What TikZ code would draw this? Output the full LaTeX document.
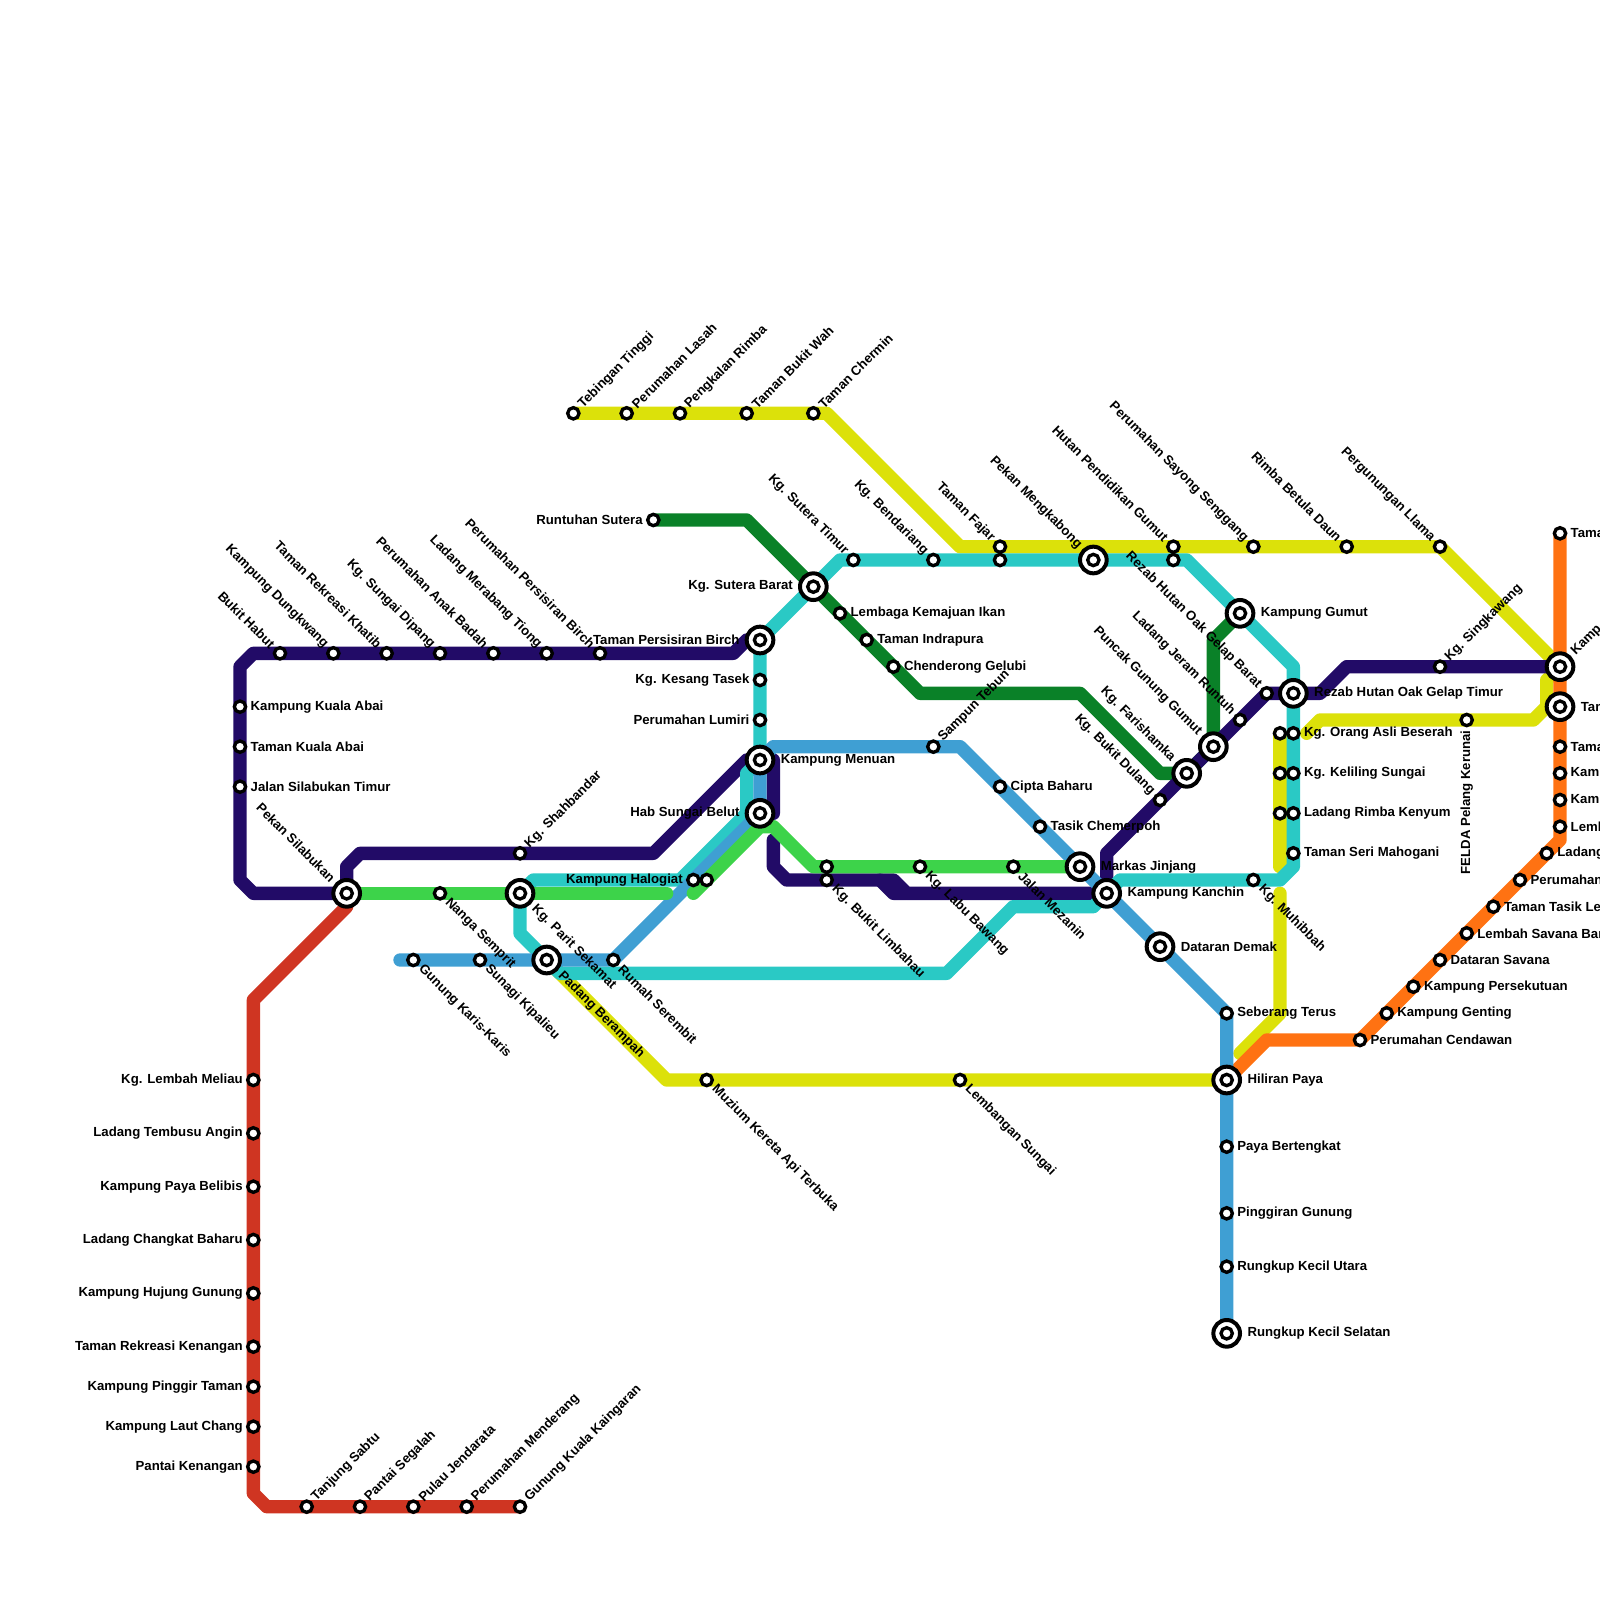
\documentclass[tikz,border=0pt]{standalone}
\usepackage{fontspec}
\setmainfont{Liberation Sans}[BoldFont={Liberation Sans Bold}]
\usetikzlibrary{backgrounds}
\definecolor{cRed}{HTML}{CF3522}
\definecolor{cYel}{HTML}{DCE10A}
\definecolor{cOra}{HTML}{FF7212}
\definecolor{cDgr}{HTML}{0A8128}
\definecolor{cPur}{HTML}{220B67}
\definecolor{cCya}{HTML}{2AC9C5}
\definecolor{cBlu}{HTML}{3F9FD3}
\definecolor{cLgr}{HTML}{3DD34A}
\tikzset{
  stn/.style={circle,draw=black,fill=white,line width=.05cm,minimum size=.17cm,inner sep=0pt,outer sep=0pt},
  big/.style={circle,draw=black,fill=white,line width=.06cm,minimum size=.4cm,inner sep=0pt,outer sep=0pt,
    label={[stn]center:{}}},
  lab/.style={font=\bfseries\fontsize{5.63pt}{6.5pt}\selectfont,text=black,inner sep=0pt},
  lR/.style={anchor=west,xshift=.153cm},
  lL/.style={anchor=east,xshift=-.153cm},
  lLB/.style={anchor=east,xshift=-.3cm},
  lRB/.style={anchor=west,xshift=.306cm},
  lUR/.style={xshift=.105cm,yshift=.105cm,rotate=45,anchor=west},
  lUL/.style={xshift=-.105cm,yshift=.105cm,rotate=-45,anchor=east},
  lDR/.style={xshift=.105cm,yshift=-.105cm,rotate=-45,anchor=west},
  lURB/.style={xshift=.2cm,yshift=.2cm,rotate=45,anchor=west},
  lULB/.style={xshift=-.2cm,yshift=.2cm,rotate=-45,anchor=east},
  lDRB/.style={xshift=.2cm,yshift=-.2cm,rotate=-45,anchor=west},
  lV/.style={yshift=-.153cm,rotate=90,anchor=east},
  route/.style={draw=#1,line width=.2cm,line cap=round,line join=round},
}
\newcommand\st[6]{\node[#1] (#2) at (#3,#4) {}; \node[lab,#5] (#2t) at (#3,#4) {#6};}
\begin{document}
\begin{tikzpicture}[x=.2cm,y=-.2cm]
\useasboundingbox (0,0) rectangle (120,120);
% top-left purple row
\st{stn}{a1}{21}{49}{lUL}{Bukit Habut}
\st{stn}{a2}{25}{49}{lUL}{Kampung Dungkwang}
\st{stn}{a3}{29}{49}{lUL}{Taman Rekreasi Khatib}
\st{stn}{a4}{33}{49}{lUL}{Kg. Sungai Dipang}
\st{stn}{a5}{37}{49}{lUL}{Perumahan Anak Badah}
\st{stn}{a6}{41}{49}{lUL}{Ladang Merabang Tiong}
\st{stn}{a7}{45}{49}{lUL}{Perumahan Persisiran Birch}
\st{stn}{a8}{18}{53}{lR}{Kampung Kuala Abai}
\st{stn}{a9}{18}{56}{lR}{Taman Kuala Abai}
\st{stn}{a10}{18}{59}{lR}{Jalan Silabukan Timur}
\st{big}{pekan}{26}{67}{lULB}{Pekan Silabukan}
\st{stn}{shah}{39}{64}{lUR}{Kg. Shahbandar}
\st{stn}{nanga}{33}{67}{lDR}{Nanga Semprit}
\st{big}{parit}{39}{67}{lDRB}{Kg. Parit Sekamat}
\st{big}{padang}{41}{72}{lDRB}{Padang Berampah}
\st{stn}{karis}{31}{72}{lDR}{Gunung Karis-Karis}
\st{stn}{kipal}{36}{72}{lDR}{Sunagi Kipalieu}
\st{stn}{serem}{46}{72}{lDR}{Rumah Serembit}
\st{stn}{halo}{52}{66}{lL}{Kampung Halogiat}
\node[stn] (halob) at (53,66) {};
% central column
\st{big}{birch}{57}{48}{lLB}{Taman Persisiran Birch}
\st{stn}{kesang}{57}{51}{lL}{Kg. Kesang Tasek}
\st{stn}{lumiri}{57}{54}{lL}{Perumahan Lumiri}
\st{big}{menuan}{57}{57}{lRB}{Kampung Menuan}
\st{big}{belut}{57}{61}{lLB}{Hab Sungai Belut}
% yellow top
\st{stn}{teb}{43}{31}{lUR}{Tebingan Tinggi}
\st{stn}{lasah}{47}{31}{lUR}{Perumahan Lasah}
\st{stn}{rimba}{51}{31}{lUR}{Pengkalan Rimba}
\st{stn}{wah}{56}{31}{lUR}{Taman Bukit Wah}
\st{stn}{chermin}{61}{31}{lUR}{Taman Chermin}
% dark green
\st{stn}{runt}{49}{39}{lL}{Runtuhan Sutera}
\st{big}{barat}{61}{44}{lLB}{Kg. Sutera Barat}
\st{stn}{ikan}{63}{46}{lR}{Lembaga Kemajuan Ikan}
\st{stn}{indra}{65}{48}{lR}{Taman Indrapura}
\st{stn}{gelubi}{67}{50}{lR}{Chenderong Gelubi}
% y=42 and y=41 row
\st{stn}{timur}{64}{42}{lUL}{Kg. Sutera Timur}
\st{stn}{bend}{70}{42}{lUL}{Kg. Bendariang}
\st{stn}{fajar}{75}{41}{lUL}{Taman Fajar}
\node[stn] (fajarb) at (75,42) {};
\st{big}{mengk}{82}{42}{lULB}{Pekan Mengkabong}
\st{stn}{hutan}{88}{41}{lUL}{Hutan Pendidikan Gumut}
\node[stn] (hutanb) at (88,42) {};
\st{stn}{sayong}{94}{41}{lUL}{Perumahan Sayong Senggang}
\st{stn}{betula}{101}{41}{lUL}{Rimba Betula Daun}
\st{stn}{llama}{108}{41}{lUL}{Pergunungan Llama}
\st{big}{gumut}{93}{46}{lRB}{Kampung Gumut}
% blue upper
\st{stn}{tebun}{70}{56}{lUR}{Sampun Tebun}
\st{stn}{cipta}{75}{59}{lR}{Cipta Baharu}
\st{stn}{tasik}{78}{62}{lR}{Tasik Chemerpoh}
\st{big}{markas}{81}{65}{lRB}{Markas Jinjang}
\st{big}{kanchin}{83}{67}{lRB}{Kampung Kanchin}
\st{big}{demak}{87}{71}{lRB}{Dataran Demak}
\st{stn}{seb}{92}{76}{lR}{Seberang Terus}
\st{big}{hiliran}{92}{81}{lRB}{Hiliran Paya}
\st{stn}{paya}{92}{86}{lR}{Paya Bertengkat}
\st{stn}{pingg}{92}{91}{lR}{Pinggiran Gunung}
\st{stn}{rkut}{92}{95}{lR}{Rungkup Kecil Utara}
\st{big}{rksel}{92}{100}{lRB}{Rungkup Kecil Selatan}
% light green / purple row
\node[stn] (gr62) at (62,65) {};
\st{stn}{limb}{62}{66}{lDR}{Kg. Bukit Limbahau}
\st{stn}{labu}{69}{65}{lDR}{Kg. Labu Bawang}
\st{stn}{mezan}{76}{65}{lDR}{Jalan Mezanin}
\st{stn}{muzium}{53}{81}{lDR}{Muzium Kereta Api Terbuka}
\st{stn}{lemb}{72}{81}{lDR}{Lembangan Sungai}
% purple diagonal
\st{stn}{dulang}{87}{60}{lUL}{Kg. Bukit Dulang}
\st{big}{faris}{89}{58}{lULB}{Kg. Farishamka}
\st{big}{puncak}{91}{56}{lULB}{Puncak Gunung Gumut}
\st{stn}{jeram}{93}{54}{lUL}{Ladang Jeram Runtuh}
\st{stn}{rzb}{95}{52}{lUL}{Rezab Hutan Oak Gelap Barat}
\st{big}{rzt}{97}{52}{lRB}{Rezab Hutan Oak Gelap Timur}
\st{stn}{sing}{108}{50}{lUR}{Kg. Singkawang}
\st{stn}{felda}{110}{54}{lV}{FELDA Pelang Kerunai}
% twin column
\node[stn] (y55) at (96,55) {};
\node[stn] (y58) at (96,58) {};
\node[stn] (y61) at (96,61) {};
\st{stn}{asli}{97}{55}{lR}{Kg. Orang Asli Beserah}
\st{stn}{kelil}{97}{58}{lR}{Kg. Keliling Sungai}
\st{stn}{kenyum}{97}{61}{lR}{Ladang Rimba Kenyum}
\st{stn}{mahog}{97}{64}{lR}{Taman Seri Mahogani}
\st{stn}{muhib}{94}{66}{lDR}{Kg. Muhibbah}
% red
\st{stn}{r1}{19}{81}{lL}{Kg. Lembah Meliau}
\st{stn}{r2}{19}{85}{lL}{Ladang Tembusu Angin}
\st{stn}{r3}{19}{89}{lL}{Kampung Paya Belibis}
\st{stn}{r4}{19}{93}{lL}{Ladang Changkat Baharu}
\st{stn}{r5}{19}{97}{lL}{Kampung Hujung Gunung}
\st{stn}{r6}{19}{101}{lL}{Taman Rekreasi Kenangan}
\st{stn}{r7}{19}{104}{lL}{Kampung Pinggir Taman}
\st{stn}{r8}{19}{107}{lL}{Kampung Laut Chang}
\st{stn}{r9}{19}{110}{lL}{Pantai Kenangan}
\st{stn}{b1}{23}{113}{lUR}{Tanjung Sabtu}
\st{stn}{b2}{27}{113}{lUR}{Pantai Segalah}
\st{stn}{b3}{31}{113}{lUR}{Pulau Jendarata}
\st{stn}{b4}{35}{113}{lUR}{Perumahan Menderang}
\st{stn}{b5}{39}{113}{lUR}{Gunung Kuala Kaingaran}
% orange
\st{stn}{o0}{117}{40}{lR}{Tama}
\st{big}{okamp}{117}{50}{lURB}{Kamp}
\st{big}{otam}{117}{53}{lRB}{Tam}
\st{stn}{o1}{117}{56}{lR}{Tama}
\st{stn}{o2}{117}{58}{lR}{Kamp}
\st{stn}{o3}{117}{60}{lR}{Kamp}
\st{stn}{o4}{117}{62}{lR}{Lemb}
\st{stn}{o5}{116}{64}{lR}{Ladang}
\st{stn}{o6}{114}{66}{lR}{Perumahan}
\st{stn}{o7}{112}{68}{lR}{Taman Tasik Le}
\st{stn}{o8}{110}{70}{lR}{Lembah Savana Bar}
\st{stn}{o9}{108}{72}{lR}{Dataran Savana}
\st{stn}{o10}{106}{74}{lR}{Kampung Persekutuan}
\st{stn}{o11}{104}{76}{lR}{Kampung Genting}
\st{stn}{o12}{102}{78}{lR}{Perumahan Cendawan}
% free line ends
\coordinate (redTop) at (26,68);
\coordinate (yelA) at (98,55);
\coordinate (yelB) at (96,65);
\coordinate (yelC) at (96,67);
\coordinate (yelD) at (93,79);
\coordinate (purA) at (58,63);
\coordinate (purB) at (66,66);
\coordinate (purC) at (68,67);
\coordinate (bluA) at (30,72);
\coordinate (lgrA) at (50,67);
\coordinate (lgrB) at (52,67);
\begin{scope}[on background layer]
\draw[route=cRed] (redTop) -- (19,75) -- (19,112) -- (20,113) -- (b5.center);
\draw[route=cYel] (teb.center) -- (62,31) -- (72,41) -- (llama.center) -- (okamp.center) -- (116,51) -- (116,53) -- (115,54) -- (99,54) -- (yelA);
\draw[route=cYel] (y55.center) -- (yelB);
\draw[route=cYel] (yelC) -- (96,76) -- (yelD);
\draw[route=cYel] (hiliran.center) -- (50,81) -- (padang.center);
\draw[route=cOra] (o0.center) -- (117,63) -- (o12.center) -- (95,78) -- (hiliran.center);
\draw[route=cDgr] (runt.center) -- (56,39) -- (69,52) -- (81,52) -- (87,58) -- (faris.center) -- (puncak.center) -- (91,48) -- (gumut.center);
\draw[route=cPur] (birch.center) -- (56,48) -- (55,49) -- (19,49) -- (18,50) -- (18,66) -- (19,67) -- (pekan.center) -- (26,65) -- (27,64) -- (49,64) -- (56,57) -- (58,57) -- (58,61) -- (belut.center);
\draw[route=cPur] (purA) -- (58,65) -- (59,66) -- (67,66) -- (68,67) -- (kanchin.center) -- (83,64) -- (rzb.center) -- (99,52) -- (101,50) -- (okamp.center);
\draw[route=cPur] (purB) -- (67,67) -- (purC);
\draw[route=cCya] (menuan.center) -- (56,58) -- (56,61) -- (51,66) -- (40,66) -- (parit.center) -- (39,70) -- (padang.center) -- (42,73) -- (71,73) -- (76,68) -- (82,68) -- (kanchin.center) -- (84,66) -- (96,66) -- (97,65) -- (97,50) -- (gumut.center) -- (89,42) -- (63,42) -- (barat.center) -- (birch.center) -- (menuan.center);
\draw[route=cBlu] (bluA) -- (serem.center) -- (belut.center) -- (menuan.center) -- (58,56) -- (72,56) -- (seb.center) -- (rksel.center);
\draw[route=cLgr] (pekan.center) -- (lgrA);
\draw[route=cLgr] (lgrB) -- (57,62) -- (58,62) -- (61,65) -- (markas.center);
\end{scope}
\end{tikzpicture}
\end{document}
